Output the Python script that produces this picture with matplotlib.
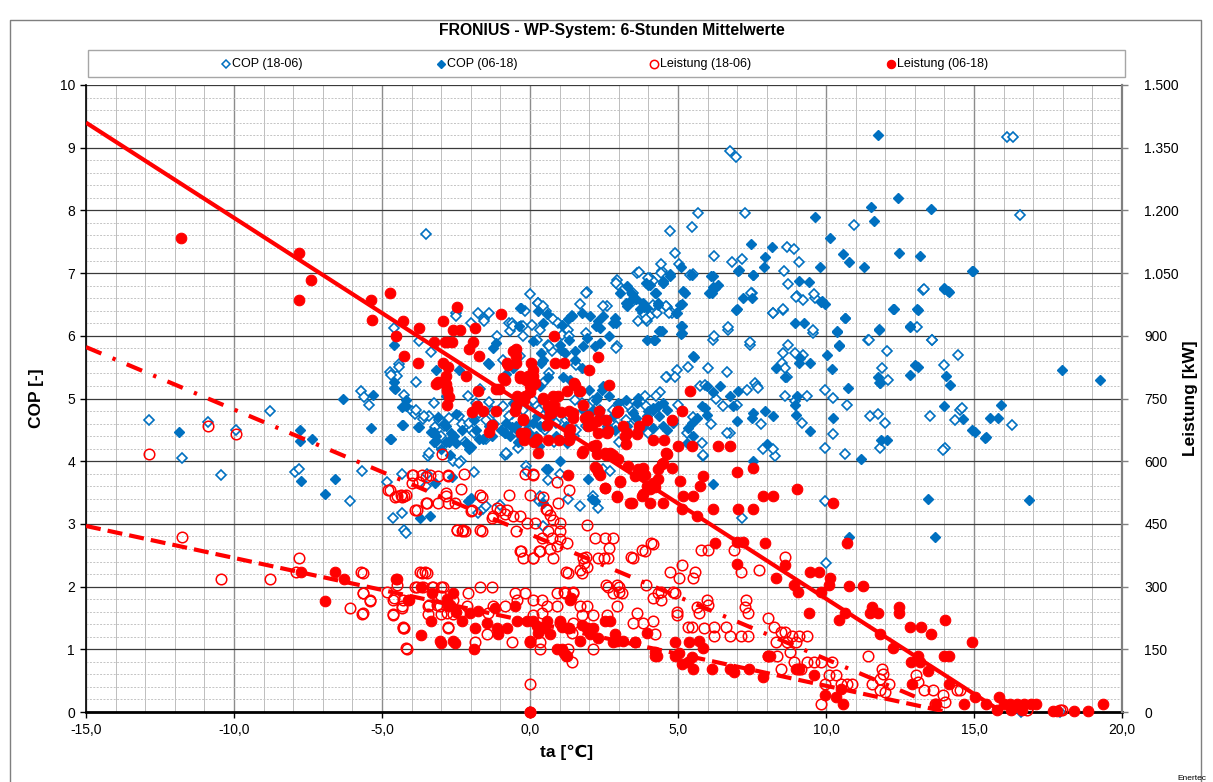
import matplotlib
matplotlib.use("Agg")
import matplotlib.pyplot as plt
from matplotlib.lines import Line2D
from matplotlib.patches import Rectangle
from matplotlib.ticker import FuncFormatter, MultipleLocator
import numpy as np

plt.rcParams['font.family'] = ['Liberation Sans', 'DejaVu Sans']

TITLE = "FRONIUS - WP-System: 6-Stunden Mittelwerte"
SERIES = ["COP (18-06)", "COP (06-18)", "Leistung (18-06)", "Leistung (06-18)"]
BLUE = "#0070C0"
RED = "#FF0000"

# COP (18-06): (ta [°C], COP)
cop_night_pts = [
    (-12.86,4.65),(-11.75,4.05),(-10.87,4.62),(-10.44,3.78),(-9.92,4.5),(-8.78,4.8),(-7.95,3.82),(-7.81,3.88),
    (-6.09,3.36),(-5.66,3.85),(-5.7,5.12),(-5.6,5.02),(-5.43,4.89),(-4.83,3.67),(-4.64,3.1),(-4.32,3.18),
    (-4.32,3.8),(-4.24,2.9),(-4.2,2.86),(-4.24,5.05),(-3.84,5.26),(-3.45,4.09),(-3.48,3.8),(-3.5,3.6),
    (-2.6,4.0),(-4.0,4.8),(-4.73,5.43),(-4.41,5.55),(-4.5,5.36),(-4.58,6.12),(-3.76,5.92),(-3.34,5.74),
    (-3.5,7.62),(-3.9,4.75),(-3.6,4.68),(-3.4,4.72),(-2.33,4.0),(-1.88,3.83),(-2.5,6.37),(-1.75,6.37),
    (-1.54,6.27),(-2.0,6.21),(-1.1,6.0),(-0.7,6.21),(-0.3,6.16),(0.0,6.66),(0.26,6.53),(0.54,6.4),
    (-1.6,3.23),(-1.5,3.28),(-1.77,3.18),(-0.86,4.1),(-0.14,3.93),(-0.1,3.85),(0.3,3.37),(0.45,2.97),
    (-2.1,5.04),(-1.7,5.15),(-1.37,4.94),(-1.3,4.8),(-2.3,4.6),(-2.0,4.5),(-2.65,4.35),(-3.0,4.4),
    (-3.2,4.55),(-3.05,4.25),
    (0.28,6.52),(0.45,6.47),(-0.17,6.39),(-0.62,6.2),(-0.68,6.07),(-0.22,6.15),(0.06,6.18),(0.79,6.27),
    (0.96,6.2),(1.29,6.1),(1.41,6.31),(1.69,6.5),(1.91,6.7),(2.59,6.47),(2.93,6.89),(2.98,6.81),
    (3.43,6.68),(3.49,6.55),(3.6,7.0),(4.05,6.92),(4.17,6.87),(4.45,7.03),(5.41,6.97),(4.79,6.36),
    (3.66,6.23),(3.94,6.23),(4.05,6.31),(4.28,6.36),(2.93,5.83),(6.19,5.94),(6.7,6.09),(7.43,5.86),
    (7.49,6.68),(8.22,6.36),(8.56,6.41),(9.01,6.63),(9.23,6.57),(8.73,5.86),(8.56,5.73),(8.95,5.73),
    (9.23,5.7),(9.57,6.04),(9.63,6.6),(8.5,5.57),(8.61,5.49),(8.69,5.34),(8.61,5.04),(8.95,4.96),
    (9.35,5.04),(9.97,5.14),(10.25,5.01),(10.7,4.89),(9.2,4.61),(10.25,4.43),(9.97,4.21),(10.64,4.11),
    (11.43,5.94),(12.05,5.75),(11.88,5.49),(12.11,5.3),(11.83,5.25),(13.29,6.73),(13.57,5.94),(13.97,5.54),
    (14.47,5.7),(11.49,4.72),(11.77,4.75),(11.99,4.61),(11.83,4.21),(14.02,4.21),(13.51,4.72),(14.36,4.66),
    (14.53,4.82),(9.97,3.36),(8.28,4.08),(7.88,4.19),(8.22,4.19),(7.6,5.25),(7.66,5.2),(7.32,5.14),
    (7.71,5.17),(6.53,4.88),(6.64,5.43),(6.02,5.49),(5.74,5.2),(5.91,5.22),(5.35,5.51),(4.95,5.46),
    (4.62,5.35),(4.9,5.35),(6.76,4.45),(6.64,4.45),(5.86,4.08),(5.8,4.29),(5.29,4.45),(3.72,4.5),
    (3.43,4.8),(2.98,4.77),(2.82,4.82),(2.36,4.82),(2.14,4.96),(1.75,4.93),(1.52,4.98),(3.88,5.04),
    (3.55,4.66),(0.34,6.1),(0.62,5.86),(1.07,6.02),(0.73,5.75),(0.23,5.94),(-0.34,5.67),(-0.9,5.62),
    (-0.79,4.11),(-0.39,4.21),(1.29,3.39),(1.69,3.28),(2.31,3.26),(2.14,3.44),(2.48,3.87),(2.7,3.85),
    (0.34,3.44),(5.83,4.1),(7.15,3.1),
    (6.74,8.94),(6.95,8.85),(16.13,9.17),(16.33,9.17),(16.55,7.93),(10.95,7.76),(7.25,7.96),(5.67,7.96),
    (5.47,7.73),(4.73,7.67),(8.67,7.42),(8.91,7.38),(9.09,7.18),(6.23,7.27),(6.82,7.18),(7.16,7.22),
    (4.9,7.32),(5.02,7.15),(4.42,7.15),(4.43,7.0),(5.52,6.98),(4.0,6.92),(8.58,7.04),(8.7,6.82),
    (9.0,6.62),(9.6,6.66),(7.48,6.69),(8.21,6.37),(8.55,6.42),(13.3,6.74),(13.08,6.14),(13.59,5.94),
    (11.44,5.94),(9.57,6.1),(6.69,6.14),(6.2,5.99),(7.42,5.9),(4.62,6.46),(4.71,6.36),(4.14,6.49),
    (3.69,7.02),(16.3,4.58),(14.6,4.85),(13.95,4.18),(10.0,2.38),(16.6,0.0),(17.9,0.0),(0.0,0.0),
    (-2.2,4.3),(-1.9,4.45),(-1.5,4.35),(-1.2,4.6),(-0.9,4.5),(-0.6,4.75),(-0.3,4.4),(0.2,4.9),
    (0.5,4.5),(0.8,4.3),(1.2,4.65),(1.5,4.4),(1.9,4.7),(2.2,4.2),(2.6,4.5),(3.0,4.3),(3.3,4.9),
    (4.0,4.45),(4.4,5.1),(5.0,4.9),(5.5,4.7),(6.1,4.6),(6.3,5.0),(7.0,4.9),(7.8,4.6),(1.0,3.8),
    (0.6,3.7),(-1.0,3.3),
    (-4.7,5.38),(-4.41,5.51),(-3.85,4.82),(-3.57,4.72),(-3.23,4.93),(-3.06,4.66),(-2.89,4.56),(-2.73,4.69),
    (-2.39,4.72),(-2.05,4.61),(-1.82,4.93),(-1.71,4.77),(-1.49,4.66),(-1.26,4.77),(-0.92,4.88),(-0.7,4.72),
    (-0.25,4.82),(0.09,4.98),(0.32,4.82),(0.65,4.72),(0.88,4.61),(1.33,4.72),(1.55,4.5),(1.89,4.56),
    (2.34,4.66),(2.91,4.56),(3.24,4.66),(3.69,4.5),(3.92,4.88),(4.26,5.04),(4.59,5.35),(-3.4,4.13),
    (-2.39,3.97),(-0.81,4.13),(-1.37,6.36),(-2.5,6.31),(-1.54,6.23),(-0.59,6.15),(-0.25,5.99),(0.65,5.83),
    (1.33,5.99),(1.89,6.68),(1.89,6.04),(2.45,6.47),(2.91,6.84),(3.47,6.68),(3.81,6.36),(3.92,6.26),
    (4.59,6.47),(2.91,5.8),(1.55,5.54),(0.65,5.41),(0.43,5.25),
]

# COP (06-18): (ta [°C], COP)
cop_day_pts = [
    (-11.86,4.46),(-7.78,4.5),(-7.78,4.33),(-7.73,3.68),(-7.36,4.35),(-6.58,3.72),(-6.91,3.47),(-6.32,5.0),
    (-5.3,5.06),(-5.38,4.53),(-4.72,4.35),(-4.33,4.58),(-3.72,3.1),(-3.38,3.13),(-4.6,5.17),(-4.6,5.26),
    (-4.2,4.97),(-4.33,4.87),(-3.8,4.55),(-3.33,4.47),(-3.26,4.3),(-2.85,4.3),(-2.65,3.75),(-3.2,3.65),
    (-4.58,5.85),(-4.55,5.15),(-4.19,4.88),(-3.74,4.54),(-3.23,4.46),(-3.17,4.32),(-2.73,4.3),(-2.56,4.4),
    (-2.0,4.22),(-1.37,5.55),(-1.26,5.81),(-0.3,6.45),(-0.36,6.16),(0.09,5.92),(0.43,6.21),(0.37,5.57),
    (-2.0,3.42),(-2.1,3.37),(0.54,3.88),(0.43,3.34),(-0.81,5.39),(-0.59,5.49),(-0.47,5.57),(-1.3,4.4),
    (-0.85,4.45),(-0.6,4.55),(-0.4,4.3),(-0.05,4.45),(0.1,4.35),(0.32,4.25),(0.54,4.6),(-3.1,4.7),
    (-2.9,4.6),(-2.5,4.75),(-2.3,4.5),(-1.9,4.65),(-1.6,4.35),(-2.7,4.1),(-3.0,4.2),
    (-0.34,6.44),(0.28,6.39),(0.56,6.34),(1.07,6.18),(1.29,6.26),(1.41,6.31),(1.75,6.36),(2.03,6.31),
    (2.31,6.23),(2.36,6.12),(2.82,6.2),(2.87,6.28),(3.27,6.47),(3.38,6.55),(3.43,6.66),(3.04,6.68),
    (3.27,6.79),(3.72,6.42),(3.83,6.52),(3.94,6.44),(4.05,6.81),(4.49,6.84),(4.32,6.52),(4.73,6.95),
    (4.95,6.37),(5.12,6.5),(5.12,6.15),(5.12,6.04),(5.18,6.71),(5.24,6.68),(5.46,6.97),(6.14,6.68),
    (6.25,6.76),(6.36,6.81),(6.19,6.95),(6.98,6.42),(7.04,7.03),(7.21,6.6),(7.54,6.97),(8.95,6.2),
    (9.1,6.87),(9.85,6.55),(9.97,6.5),(10.36,6.07),(10.64,6.28),(10.45,5.86),(12.27,6.43),(13.08,6.42),
    (12.84,6.15),(11.79,6.11),(13.98,6.76),(14.13,6.71),(14.92,7.03),(10.05,5.7),(5.55,5.66),(4.45,6.07),
    (4.22,5.94),(3.94,5.94),(8.31,5.49),(8.61,5.35),(9.1,5.57),(9.12,5.65),(9.46,5.57),(10.19,5.47),
    (10.75,5.17),(11.76,5.35),(11.81,5.25),(12.84,5.38),(13.0,5.54),(13.12,5.51),(14.07,5.36),(14.19,5.22),
    (14.0,4.88),(14.62,4.68),(15.03,4.47),(15.37,4.37),(15.82,4.69),(13.43,3.39),(11.18,4.04),(12.05,4.34),
    (11.85,4.34),(10.25,4.69),(9.46,4.48),(9.0,4.74),(8.95,4.9),(9.01,5.04),(8.22,4.72),(7.94,4.8),
    (7.54,4.77),(7.49,4.69),(7.0,4.64),(6.87,4.88),(7.04,5.12),(6.76,5.04),(6.42,5.2),(6.19,5.1),
    (5.97,5.2),(7.54,4.0),(7.99,4.27),(5.8,4.88),(5.91,4.85),(5.97,4.74),(5.63,4.69),(5.46,4.61),
    (5.52,4.4),(5.35,4.53),(5.29,4.29),(4.84,4.66),(4.62,4.82),(4.5,4.93),(4.34,4.88),(4.17,4.85),
    (4.0,4.8),(3.66,5.01),(3.6,4.93),(3.94,4.72),(3.83,4.56),(4.17,4.53),(4.62,4.5),(4.84,4.61),
    (2.42,5.14),(2.25,5.03),(2.14,4.82),(2.36,4.72),(2.82,4.72),(2.59,4.56),(2.87,4.5),(3.27,4.56),
    (1.35,5.3),(1.13,5.35),(0.62,5.35),(0.34,5.2),(0.56,4.82),(0.23,4.72),(0.34,4.56),(-0.11,4.61),
    (-0.56,4.93),(-0.45,4.5),(-0.68,4.4),(-0.84,4.45),(0.45,5.62),(1.01,5.86),(1.18,5.72),(1.52,5.62),
    (1.75,5.49),(1.52,5.75),(1.91,5.96),(2.2,5.83),(2.36,5.88),(1.24,4.29),(0.62,3.87),(1.01,4.0),
    (1.97,3.71),(2.08,3.39),(2.2,3.36),(6.19,3.63),(5.52,5.67),
    (11.74,9.21),(12.43,8.19),(11.52,8.06),(11.61,7.83),(13.55,8.02),(9.63,7.9),(10.14,7.56),(12.48,7.32),
    (13.19,7.27),(10.57,7.3),(10.79,7.17),(11.29,7.1),(9.8,7.09),(14.97,7.03),(8.17,7.42),(7.93,7.26),
    (7.9,7.1),(7.45,7.46),(7.53,6.97),(7.06,7.05),(6.97,6.41),(6.12,6.96),(6.06,6.68),(6.17,6.78),
    (5.1,7.09),(4.74,6.98),(4.5,6.85),(4.0,6.81),(4.22,6.68),(3.86,6.46),(4.34,6.49),(5.08,6.49),
    (4.93,6.36),(9.41,6.86),(9.83,6.54),(10.64,6.28),(9.27,6.21),(7.51,6.61),(12.29,6.43),(13.11,6.41),
    (12.83,6.14),(11.79,6.1),(10.45,5.84),(10.36,6.06),(14.0,6.74),(14.15,6.7),(5.1,6.15),(5.1,6.03),
    (4.4,6.08),(4.2,5.94),
    (15.9,4.9),(14.93,4.5),(15.4,4.39),(15.55,4.69),(16.85,3.38),(17.97,5.45),(19.26,5.3),(13.68,2.79),
    (10.78,2.79),(0.0,0.0),
    (-4.3,4.58),(-4.7,4.36),(-3.18,4.4),(-2.84,4.56),(-2.67,4.45),(-2.5,4.29),(-2.16,4.29),(-2.05,4.19),
    (-1.82,4.5),(-1.71,4.35),(-1.37,4.56),(-0.98,4.5),(-0.81,4.61),(-0.47,4.56),(-0.14,4.5),(0.09,4.61),
    (0.2,4.4),(0.48,4.56),(0.71,4.72),(0.88,4.4),(1.22,4.56),(1.33,4.4),(1.78,4.82),(2.0,5.14),
    (2.23,4.98),(2.45,5.2),(2.68,5.04),(2.96,4.93),(3.24,4.98),(3.47,4.77),(3.58,4.69),(4.14,4.82),
    (4.37,4.72),(4.48,4.56),(-2.84,5.04),(-3.18,5.46),(-2.39,5.46),(-1.43,5.57),(-1.15,5.89),(0.37,5.73),
    (1.05,5.78),(1.33,5.94),(1.78,5.83),(2.23,6.15),(2.45,6.31),(2.68,5.99),(2.91,6.2),(3.24,6.52),
    (3.58,6.58),(3.92,6.84),(4.26,6.68),(4.48,6.87),(4.2,5.94),(4.37,6.07),
]

# Leistung (18-06): (ta [°C], kW)
p_night_pts = [
    (-12.86,618),(-10.87,684),(-9.92,666),(-11.75,419),(-10.44,318),(-8.78,318),(-7.81,368),(-7.92,335),
    (-5.7,335),(-5.64,284),(-5.42,269),(-6.09,249),(-5.66,234),(-4.63,234),(-4.32,249),(-4.3,203),
    (-4.25,200),(-4.2,152),(-4.83,288),(-4.59,272),(-4.48,303),(-3.7,335),(-3.54,335),(-3.9,300),
    (-3.6,300),(-3.3,300),(-3.0,300),(-3.4,255),(-3.15,255),(-3.45,234),(-3.0,234),(-2.76,203),
    (-2.6,234),(-2.96,618),(-2.48,435),(-4.0,567),(-3.74,551),(-3.5,563),(-3.1,564),(-2.77,564),
    (-4.8,530),(-4.5,516),(-4.25,516),(-3.87,483),(-3.5,500),(-3.1,500),(-2.77,500),(-2.55,500),
    (-2.85,516),(-4.36,518),(-4.2,518),(-2.22,569),(-2.84,525),(-2.33,533),(-1.68,518),(-2.45,435),
    (-2.28,435),(-1.68,435),(-0.72,518),(0.0,518),(-0.18,569),(0.1,569),(-0.47,434),(-0.3,386),
    (0.09,369),(0.32,386),(0.54,485),(-2.0,480),(-1.3,465),(-1.1,488),(-0.85,473),
    (-3.94,567),(-3.66,567),(-3.38,567),(-2.76,567),(-4.0,548),(-4.73,531),(-4.56,515),(-4.33,515),
    (-3.83,483),(-3.49,500),(-1.97,483),(-1.63,515),(-1.24,468),(-1.01,483),(-0.79,483),(-0.56,468),
    (-0.34,468),(-0.11,452),(0.17,452),(0.11,567),(0.45,515),(0.56,483),(0.68,471),(0.79,459),
    (1.01,452),(0.9,551),(1.33,531),(0.96,500),(0.62,432),(0.73,416),(1.01,432),(1.01,413),
    (1.91,447),(0.39,416),(-2.31,434),(-2.2,434),(-1.63,434),(-0.34,384),(-0.23,369),(0.11,369),
    (0.34,384),(0.79,369),(0.68,389),(0.9,396),(2.2,416),(2.53,416),(2.82,416),(1.8,369),
    (1.91,348),(2.31,369),(2.65,369),(1.3,333),(1.75,333),(3.49,369),(3.88,384),(4.17,401),
    (-5.63,333),(-5.63,285),(-5.63,237),(-5.4,266),(-4.62,269),(-4.28,269),(-4.62,233),(-4.33,254),
    (-4.28,201),(-4.17,150),(-3.83,300),(-3.66,333),(-3.49,333),(-3.27,300),(-2.93,300),(-3.44,254),
    (-3.04,254),(-2.82,237),(-2.99,278),(-2.76,201),(-2.59,269),(-2.36,237),(-2.08,285),(-2.14,254),
    (-1.86,167),(-1.69,300),(-1.29,300),(-1.46,186),(-1.41,237),(-1.24,254),(-0.84,254),(-0.51,285),
    (-0.17,285),(-0.45,269),(0.11,269),(0.39,269),(0.56,254),(0.9,285),(1.18,285),(1.46,285),
    (0.9,254),(0.39,237),(0.11,233),(-0.62,167),(0.0,167),(0.34,167),(0.34,150),(1.01,213),
    (1.46,213),(1.41,189),(1.3,150),(1.41,119),(2.14,150),(1.69,254),(1.91,254),(1.75,233),
    (2.14,233),(2.59,233),(2.93,254),(2.82,285),(2.65,300),(2.99,300),(3.1,285),(3.6,237),
    (3.49,213),(3.83,213),(4.17,218),(4.22,186),(4.33,285),(4.17,273),(0.0,68),(0.0,0),
    (1.26,404),(4.1,404),(3.79,387),(3.42,371),(2.68,392),(2.49,368),(1.88,371),(1.81,356),
    (1.69,339),(1.2,335),(5.77,387),(6.01,387),(6.88,387),(8.6,371),(7.74,339),(7.12,335),
    (5.15,351),(5.58,335),(5.52,320),(4.72,335),(5.04,320),(2.56,303),(2.93,303),(3.0,287),
    (3.93,303),(1.14,287),(1.44,287),(4.43,287),(4.84,287),(4.9,284),(5.99,267),(7.31,267),
    (4.43,267),(6.01,255),(7.26,252),(7.38,236),(5.64,252),(5.7,236),(4.96,240),(4.96,231),
    (5.33,204),(5.46,204),(5.89,200),(6.2,204),(6.2,183),(6.63,204),(6.75,183),(7.12,183),
    (7.38,183),(8.05,224),(8.23,204),(8.48,192),(8.6,192),(8.85,183),(9.1,183),(9.35,183),
    (8.3,168),(8.67,168),(8.98,168),(8.05,135),(8.36,135),(8.79,144),(8.91,120),(9.35,119),
    (9.59,119),(9.84,119),(10.19,119),(9.04,104),(9.16,104),(8.48,104),(10.09,89),(10.33,89),
    (9.96,68),(10.52,68),(10.7,68),(10.89,68),(9.84,18),(11.42,135),(11.88,104),(11.94,92),
    (11.81,80),(11.81,53),(12.0,48),(11.57,68),(12.12,68),(13.05,89),(13.11,72),(13.3,53),
    (13.6,53),(13.94,41),(14.01,24),(13.67,20),(14.41,53),(14.53,53),(16.8,5),(17.9,5),(17.96,5),
]

# Leistung (06-18): (ta [°C], kW)
p_day_pts = [
    (-11.8,1134),(-7.8,1098),(-7.79,986),(-7.41,1034),(-5.34,938),(-5.37,986),(-4.72,1002),(-4.3,936),
    (-4.53,900),(-3.74,918),(-4.26,852),(-3.77,834),(-2.95,936),(-2.48,968),(-2.6,915),(-2.38,915),
    (-2.8,885),(-2.65,885),(-2.95,836),(-2.78,825),(-2.84,804),(-3.17,785),(-2.84,785),(-2.16,803),
    (-2.8,768),(-2.75,753),(-2.8,734),(-1.85,918),(-1.94,885),(-2.05,869),(-1.73,852),(-0.98,953),
    (-1.77,768),(-1.8,732),(-1.6,719),(-1.97,717),(-1.15,773),(-0.92,800),(-1.15,719),(-1.28,686),
    (-1.37,669),(-0.47,869),(-0.47,852),(-0.47,834),(-0.33,800),(0.03,834),(0.09,803),(-0.47,732),
    (0.0,780),(0.0,765),(0.43,750),(0.6,732),(-0.5,720),(-0.25,702),(-0.3,668),(-0.19,651),
    (0.15,647),(0.26,620),(-3.23,885),(-2.86,885),(-1.04,773),(-0.75,831),(-0.59,863),(-0.14,795),
    (0.11,783),(-0.19,747),(-0.23,699),(0.71,732),(0.82,735),(0.93,756),(0.71,716),(0.6,651),
    (0.97,651),(1.33,651),(1.05,717),(1.33,720),(1.44,704),(1.33,668),(1.48,788),(1.64,768),
    (1.78,735),(1.95,708),(2.09,687),(2.34,720),(2.0,819),(2.31,849),(2.68,783),(2.57,699),
    (2.62,672),(2.94,717),(3.67,684),(3.95,699),(4.17,651),(4.54,651),(1.78,624),(2.23,638),
    (2.57,615),(2.8,615),(3.24,641),(3.22,660),(4.6,620),(4.46,593),(0.8,900),(0.86,834),
    (1.16,834),(-0.79,836),(0.11,819),(-0.84,795),(-0.34,803),(-0.06,803),(0.0,788),(0.17,788),
    (-0.45,756),(-0.17,756),(0.45,752),(0.79,756),(1.24,768),(1.52,783),(1.69,768),(1.46,716),
    (1.35,677),(0.68,716),(0.56,687),(0.23,653),(-0.17,668),(1.86,704),(1.97,684),(2.25,696),
    (2.31,668),(2.59,668),(2.98,720),(3.15,684),(3.27,668),(3.6,665),(4.79,699),(5.12,720),
    (5.01,636),(5.46,636),(5.41,768),(1.75,620),(2.14,636),(2.25,617),(2.53,620),(2.7,620),
    (2.98,605),(3.32,588),(3.55,564),(3.83,584),(3.94,540),(4.17,549),(4.34,581),(4.5,596),
    (4.62,617),(4.79,584),(5.07,552),(5.18,516),(5.52,516),(5.74,540),(5.86,564),(6.36,636),
    (6.76,636),(6.98,573),(7.54,584),(7.88,516),(8.22,516),(9.01,533),(10.25,501),(2.53,537),
    (2.93,516),(3.43,501),(3.77,516),(4.05,533),(4.5,501),(5.12,485),(5.63,470),(6.19,485),
    (7.04,485),(7.54,485),(2.2,585),(3.04,552),(2.31,573),
    (10.7,404),(6.26,404),(7.0,407),(7.19,407),(7.93,404),(6.98,353),(8.3,320),(8.6,351),
    (9.47,335),(9.78,335),(10.12,320),(10.09,303),(8.91,303),(9.04,287),(9.84,287),(10.78,302),
    (11.26,302),(9.42,236),(10.43,219),(10.64,236),(11.54,252),(11.5,236),(11.75,236),(12.46,252),
    (12.46,236),(12.83,204),(13.2,204),(13.54,186),(14.01,219),(11.81,186),(12.25,152),(13.11,135),
    (12.86,119),(13.17,119),(13.46,99),(14.0,135),(14.16,135),(14.94,168),(12.9,68),(14.14,68),
    (13.73,20),(14.65,18),(15.02,36),(15.4,18),(15.83,36),(16.0,18),(16.23,18),(16.44,18),
    (16.69,18),(16.94,18),(17.09,18),(15.77,5),(16.26,5),(16.63,5),(17.68,3),(17.8,3),
    (18.38,3),(18.85,3),(19.35,18),(10.52,56),(9.96,41),(10.58,18),(10.33,36),(9.59,89),
    (8.98,104),(9.1,104),(7.86,84),(7.4,104),(6.88,96),(6.75,104),(6.14,104),(5.52,104),
    (5.46,132),(5.33,120),(4.9,135),(4.28,135),(4.22,144),(3.54,168),(8.05,135),(8.11,135),
    (4.9,168),(5.37,168),(5.7,171),(5.83,152),(5.04,140),(5.15,116),(2.8,168),(2.31,176),
    (1.94,200),(1.75,207),(1.32,200),(1.07,204),(1.14,140),(1.2,135),(1.39,272),
    (-6.91,266),(-6.58,335),(-6.3,317),(-7.75,335),(-4.5,317),(-4.08,267),(-3.67,300),(-3.3,285),
    (-3.33,218),(-3.67,185),(-3.0,165),(-2.55,165),(-2.8,270),(-2.6,285),(-2.7,255),(-2.5,240),
    (-3.1,789),(-3.0,789),(-2.8,773),
    (-4.53,318),(-4.11,269),(-3.04,170),(-2.59,170),(-2.76,254),(-2.31,218),(-2.03,237),(-1.86,201),
    (-1.75,242),(-1.46,213),(-1.18,249),(-1.13,201),(-1.07,186),(-0.79,201),(-0.51,254),(-0.45,218),
    (-0.11,218),(0.11,218),(0.23,206),(0.28,189),(0.56,218),(0.51,201),(0.68,186),(0.0,170),
    (0.9,150),(1.07,150),(1.24,135),(1.01,218),(1.3,201),(1.35,269),(1.69,170),(1.91,201),
    (2.03,186),(2.14,201),(2.53,218),(2.7,218),(2.87,186),(2.93,170),(3.15,170),(3.55,167),
    (3.94,189),(4.22,135),(-1.88,150),(1.3,567),(2.25,582),(2.36,567),(2.53,536),(2.93,515),
    (3.04,551),(3.38,500),(3.66,582),(3.88,567),(4.05,500),(4.22,539),(4.33,558),(3.83,522),
    (0.0,0),
]

# Trend lines (ta endpoints, kW endpoints)
trend_day_ta = [-15.0, 15.95]
trend_day_kw = [1410, 0]
trend_dashdot_ta = [-15.0, 13.0]
trend_dashdot_kw = [873, 37]
trend_dashed_ta = [-15.0, 14.1]
trend_dashed_kw = [445, 0]

W, H = 1213, 782
fig = plt.figure(figsize=(W / 100, H / 100), dpi=100)

def fx(px):
    return px / W

def fy(py):
    return 1 - py / H

ax = fig.add_axes([fx(86), fy(712), fx(1122) - fx(86), fy(85) - fy(712)])
ax2 = ax.twinx()
ax2.patch.set_visible(False)

ax.set_xlim(-15, 20)
ax.set_ylim(0, 10)
ax2.set_ylim(0, 1500)

# grid
ax.xaxis.set_major_locator(MultipleLocator(5))
ax.xaxis.set_minor_locator(MultipleLocator(1))
ax.yaxis.set_major_locator(MultipleLocator(1))
ax.yaxis.set_minor_locator(MultipleLocator(0.2))
ax.set_axisbelow(True)
ax.grid(which='minor', axis='x', color='#bdbdbd', lw=0.7)
ax.grid(which='major', axis='x', color='#8c8c8c', lw=1.0)
ax.grid(which='minor', axis='y', color='#c4c4c4', lw=0.7, linestyle=(0, (2, 1.5)))
ax.grid(which='major', axis='y', color='#3a3a3a', lw=0.9)
ax.tick_params(which='minor', length=0)
ax.tick_params(which='major', direction='out', length=4, width=1, labelsize=10, pad=4)
ax2.tick_params(which='major', direction='out', length=4, width=1, labelsize=10, pad=12, colors='black')
ax2.tick_params(axis='y', color='#808080')
ax2.yaxis.set_major_locator(MultipleLocator(150))

ax.xaxis.set_major_formatter(FuncFormatter(lambda v, p: f"{v:.1f}".replace('.', ',')))
ax.yaxis.set_major_formatter(FuncFormatter(lambda v, p: f"{int(round(v))}"))
ax2.yaxis.set_major_formatter(FuncFormatter(lambda v, p: f"{int(round(v)):,}".replace(',', '.')))

for s in ['top']:
    ax.spines[s].set_visible(False)
    ax2.spines[s].set_visible(False)
ax.spines['bottom'].set_linewidth(2.0)
ax.spines['left'].set_linewidth(1.2)
ax2.spines['right'].set_color('#808080')
ax2.spines['right'].set_linewidth(1.6)
ax2.spines['left'].set_visible(False)
ax2.spines['bottom'].set_visible(False)
ax.spines['right'].set_visible(False)

def unzip(pts):
    a = np.array(pts, dtype=float)
    return a[:, 0], a[:, 1]

x, y = unzip(cop_night_pts)
ax.plot(x, y, linestyle='none', marker='D', ms=4.6, mfc='white', mec=BLUE, mew=1.2, clip_on=False, zorder=3)
x, y = unzip(cop_day_pts)
ax.plot(x, y, linestyle='none', marker='D', ms=4.6, mfc=BLUE, mec=BLUE, mew=1.0, clip_on=False, zorder=4)
x, y = unzip(p_night_pts)
ax2.plot(x, y, linestyle='none', marker='o', ms=7.6, mfc='none', mec=RED, mew=1.1, clip_on=False, zorder=3)
x, y = unzip(p_day_pts)
ax2.plot(x, y, linestyle='none', marker='o', ms=7.6, mfc=RED, mec=RED, mew=0.8, clip_on=False, zorder=4)

ax2.plot(trend_day_ta, trend_day_kw, color=RED, lw=3.0, solid_capstyle='butt', zorder=5)
ax2.plot(trend_dashdot_ta, trend_dashdot_kw, color=RED, lw=3.0, dashes=(4, 2.9, 0.8, 2.9), zorder=5)
ax2.plot(trend_dashed_ta, trend_dashed_kw, color=RED, lw=3.0, dashes=(3.6, 1.7), zorder=5)

# labels
fig.text(fx(37), fy(398), "COP [-]", rotation=90, ha='center', va='center', fontsize=12.5, fontweight='bold')
fig.text(fx(1190), fy(398), "Leistung [kW]", rotation=90, ha='center', va='center', fontsize=12.5, fontweight='bold')
fig.text(fx(567), fy(752), "ta [℃]", ha='center', va='center', fontsize=12.5, fontweight='bold')
fig.text(fx(612), fy(30), TITLE, ha='center', va='center', fontsize=11.3, fontweight='bold')

# legend box
fig.add_artist(Rectangle((fx(88), fy(77)), fx(1125) - fx(88), fy(50) - fy(77), transform=fig.transFigure,
                         fill=False, edgecolor='#a6a6a6', lw=1.0))
leg_items = [
    (226, dict(marker='D', ms=4.2, mfc='white', mec=BLUE, mew=1.1)),
    (441, dict(marker='D', ms=4.2, mfc=BLUE, mec=BLUE, mew=1.0)),
    (654, dict(marker='o', ms=6.0, mfc='white', mec=RED, mew=1.1)),
    (891, dict(marker='o', ms=6.0, mfc=RED, mec=RED, mew=0.8)),
]
for (px, st), name in zip(leg_items, SERIES):
    fig.add_artist(Line2D([fx(px)], [fy(64)], transform=fig.transFigure, linestyle='none', **st))
    fig.text(fx(px + 6), fy(64), name, ha='left', va='center', fontsize=9)

# outer frame
fig.add_artist(Line2D([fx(10), fx(10), fx(1201), fx(1201)], [0, fy(20), fy(20), 0],
                      transform=fig.transFigure, color='#7f7f7f', lw=1.0))
fig.text(fx(1192), fy(779), "Enertec", ha='center', va='center', fontsize=6)

fig.savefig("out.png", dpi=100)
